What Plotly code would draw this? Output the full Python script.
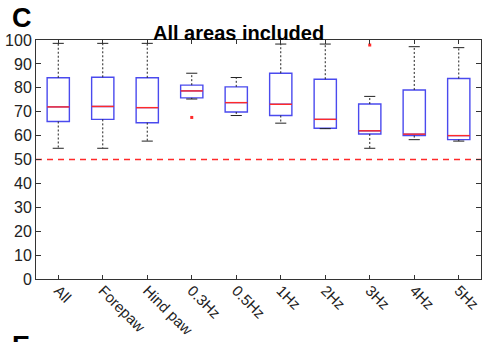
import plotly.graph_objects as go

categories = ["All", "Forepaw", "Hind paw", "0.3Hz", "0.5Hz", "1Hz", "2Hz", "3Hz", "4Hz", "5Hz"]
upper_whisker = [98.6, 98.6, 98.6, 86.1, 84.3, 98.3, 98.3, 76.4, 97.2, 96.8]
q3 = [84.2, 84.4, 84.2, 81.1, 80.4, 86.1, 83.6, 73.2, 79.1, 83.9]
median = [72.0, 72.2, 71.7, 78.7, 73.8, 73.1, 66.8, 62.0, 60.6, 60.0]
q1 = [65.9, 66.8, 65.4, 75.8, 69.9, 68.4, 63.1, 60.7, 60.0, 58.3]
lower_whisker = [54.7, 54.7, 57.7, 75.3, 68.4, 65.2, 62.9, 54.7, 58.3, 57.7]
outlier_cat = [4, 8]
outlier_val = [67.6, 97.9]
chance_level = 50
y_ticks = [0, 10, 20, 30, 40, 50, 60, 70, 80, 90, 100]

BOX_BLUE = "#4a4aee"
RED = "#ff2a2a"
BOX_W = 0.5
CAP_W = 0.25

pos = list(range(1, len(categories) + 1))
fig = go.Figure()

# chance level
fig.add_hline(y=chance_level, line=dict(color=RED, width=1.3, dash="6px,5px"), layer="below")

# boxes (library box, fences set to quartiles; whiskers drawn separately)
for i, p in enumerate(pos):
    fig.add_trace(go.Box(
        x=[p], q1=[q1[i]], median=[median[i]], q3=[q3[i]],
        lowerfence=[q1[i]], upperfence=[q3[i]],
        width=BOX_W, fillcolor="rgba(255,255,255,0)",
        line=dict(color=BOX_BLUE, width=1.4), whiskerwidth=0,
        boxpoints=False, showlegend=False, hoverinfo="skip"))

# dashed whiskers
wx, wy = [], []
for i, p in enumerate(pos):
    wx += [p, p, None, p, p, None]
    wy += [q3[i], upper_whisker[i], None, q1[i], lower_whisker[i], None]
fig.add_trace(go.Scatter(x=wx, y=wy, mode="lines",
                         line=dict(color="#222", width=1, dash="2px,2px"),
                         showlegend=False, hoverinfo="skip"))

# whisker caps
cx, cy = [], []
for i, p in enumerate(pos):
    for v in (upper_whisker[i], lower_whisker[i]):
        cx += [p - CAP_W / 2, p + CAP_W / 2, None]
        cy += [v, v, None]
fig.add_trace(go.Scatter(x=cx, y=cy, mode="lines",
                         line=dict(color="#222", width=1),
                         showlegend=False, hoverinfo="skip"))

# red medians
mx, my = [], []
for i, p in enumerate(pos):
    mx += [p - BOX_W / 2, p + BOX_W / 2, None]
    my += [median[i], median[i], None]
fig.add_trace(go.Scatter(x=mx, y=my, mode="lines",
                         line=dict(color=RED, width=1.4),
                         showlegend=False, hoverinfo="skip"))

# outliers
fig.add_trace(go.Scatter(x=outlier_cat, y=outlier_val, mode="markers",
                         marker=dict(color=RED, size=3, symbol="square"),
                         showlegend=False, hoverinfo="skip"))

fig.update_layout(
    width=482, height=342,
    margin=dict(l=36, r=1, t=40, b=63),
    paper_bgcolor="white", plot_bgcolor="white",
    font=dict(family="Liberation Sans, Arial, sans-serif", color="#222"),
    showlegend=False,
    xaxis=dict(range=[0.5, 10.5], tickmode="array", tickvals=pos, ticktext=categories,
               tickangle=45, ticks="inside", ticklen=4, tickcolor="#333",
               showline=True, linecolor="#333", linewidth=1, mirror="ticks",
               showgrid=False, zeroline=False, ticklabelstandoff=-4,
               ticklabeloverflow="allow",
               tickfont=dict(size=15, color="#222")),
    yaxis=dict(range=[0, 100], tickmode="array", tickvals=y_ticks,
               ticks="inside", ticklen=5, tickcolor="#333",
               showline=True, linecolor="#333", linewidth=1, mirror="ticks",
               showgrid=False, zeroline=False,
               tickfont=dict(size=16, color="#222")),
    annotations=[
        dict(text="<b>All areas included</b>", xref="paper", yref="paper",
             x=(238 - 36) / 445, y=1.0, xanchor="center", yanchor="bottom",
             showarrow=False, font=dict(size=20, color="black"), yshift=-6),
        dict(text="<b>C</b>", xref="paper", yref="paper",
             x=(10 - 36) / 445, y=(279 - 18) / 239, xanchor="left", yanchor="middle",
             height=22, valign="middle",
             showarrow=False, font=dict(size=27, color="black")),
        dict(text="<b>E</b>", xref="paper", yref="paper",
             x=(10 - 36) / 445, y=(279 - 329) / 239, xanchor="left", yanchor="top",
             showarrow=False, font=dict(size=27, color="black")),
    ],
)

fig.write_html("out.html")
